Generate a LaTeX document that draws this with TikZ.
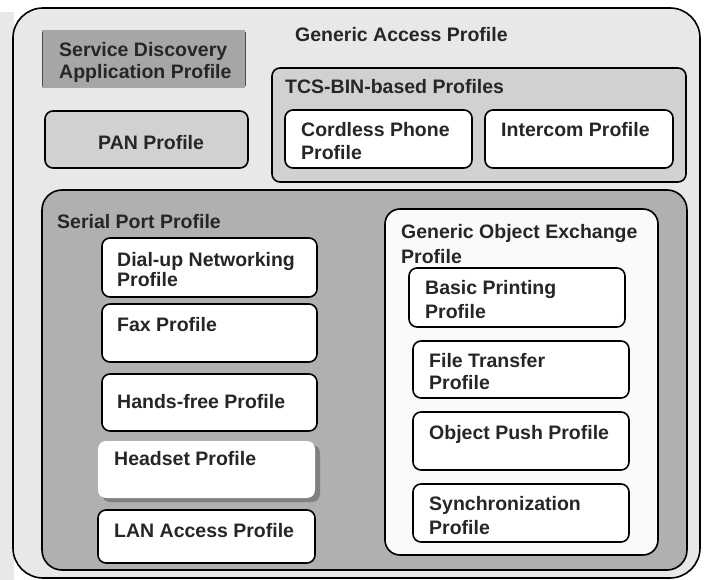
\documentclass[tikz,border=0pt]{standalone}
\usepackage{fontspec}
\setmainfont{Liberation Sans}
\begin{document}
\begin{tikzpicture}[x=1pt,y=-1pt,
  frame/.style={draw=black,line width=1.6pt},
  whitebox/.style={frame,fill=white,rounded corners=8pt},
  txt/.style={anchor=base west,inner sep=0pt,font=\fontsize{19.5}{23}\selectfont\bfseries,text=black!85}]
\useasboundingbox (0,0) rectangle (705,580);
\fill[white] (0,0) rectangle (705,580);
\fill[black!9] (0,12) rectangle (14,580);

% Generic Access Profile (outer frame)
\path[frame,fill=black!9,rounded corners=30pt] (13,8) rectangle (700,578);
\node[txt] (gap) at (295,42) {Generic Access Profile};

% Service Discovery Application Profile
\fill[black!35] (42,30) rectangle (245,88);
\draw[black!70,line width=0.8pt] (42,32) -- (42,86) (245,32) -- (245,86);
\node[txt] (sdap1) at (59,57) {Service Discovery};
\node[txt] (sdap2) at (59,79) {Application Profile};

% PAN Profile
\path[frame,fill=black!18,rounded corners=8pt] (45,111) rectangle (248,168);
\node[txt] (pan) at (98,150) {PAN Profile};

% TCS-BIN-based profiles
\path[frame,fill=black!18,rounded corners=8pt] (272,68) rectangle (686,182);
\node[txt] (tcs) at (285,94) {TCS-BIN-based Profiles};
\path[whitebox] (285,110) rectangle (472,168);
\node[txt] (cpp1) at (301,137) {Cordless Phone};
\node[txt] (cpp2) at (301,160) {Profile};
\path[whitebox] (485,110) rectangle (673,168);
\node[txt] (icp) at (501,137) {Intercom Profile};

% Serial Port Profile
\path[frame,fill=black!31,rounded corners=20pt] (42,190) rectangle (687,570);
\node[txt] (spp) at (57,229) {Serial Port Profile};

\path[whitebox] (102,238) rectangle (317,297);
\node[txt] (dun1) at (117,267) {Dial-up Networking};
\node[txt] (dun2) at (117,287) {Profile};
\path[whitebox] (102,304) rectangle (317,362);
\node[txt] (fax) at (117,332) {Fax Profile};
\path[whitebox] (102,374) rectangle (317,431);
\node[txt] (hfp) at (117,409) {Hands-free Profile};
% Headset profile: borderless with a soft shadow
\fill[black!50,rounded corners=8pt] (102,445) rectangle (320,502);
\fill[white,rounded corners=8pt] (98,441) rectangle (315,498);
\node[txt] (hsp) at (114,465) {Headset Profile};
\path[whitebox] (98,510) rectangle (315,563);
\node[txt] (lap) at (114,537) {LAN Access Profile};

% Generic Object Exchange Profile
\path[frame,fill=black!2,rounded corners=15pt] (385,209) rectangle (658,555);
\node[txt] (goep1) at (401,239) {Generic Object Exchange};
\node[txt] (goep2) at (401,264) {Profile};
\path[whitebox] (409,268) rectangle (625,327);
\node[txt] (bpp1) at (425,295) {Basic Printing};
\node[txt] (bpp2) at (425,319) {Profile};
\path[whitebox] (413,341) rectangle (629,398);
\node[txt] (ftp1) at (429,368) {File Transfer};
\node[txt] (ftp2) at (429,390) {Profile};
\path[whitebox] (413,412) rectangle (629,470);
\node[txt] (opp) at (429,439) {Object Push Profile};
\path[whitebox] (413,484) rectangle (629,542);
\node[txt] (sync1) at (429,510) {Synchronization};
\node[txt] (sync2) at (429,534) {Profile};
\end{tikzpicture}
\end{document}
